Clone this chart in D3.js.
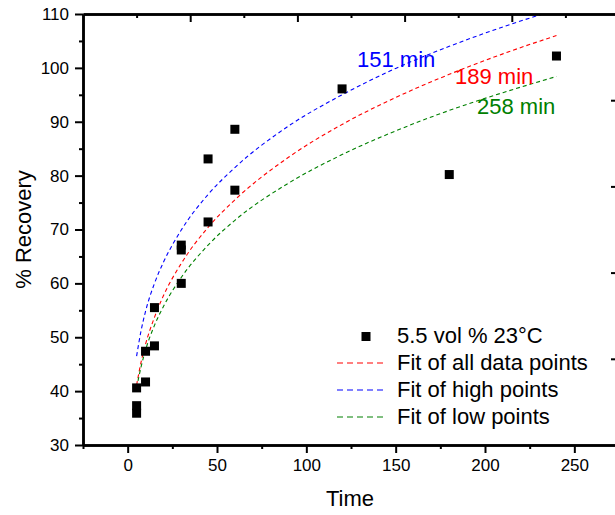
<!DOCTYPE html>
<html>
<head>
<meta charset="utf-8">
<script src="https://cdn.jsdelivr.net/npm/d3@7"></script>
<style>
  body { margin: 0; background: #fff; }
  text { font-family: Arial, "Liberation Sans", sans-serif; fill: #000; }
</style>
</head>
<body>
<div id="chart"></div>
<script>
// measured points
var timePts = [5, 5, 5, 10, 10, 15, 15, 30, 30, 30, 45, 45, 60, 60, 120, 180, 240];
var recPts = [40.6, 37.3, 35.9, 41.7, 47.4, 48.4, 55.5, 60.0, 66.2, 67.1, 71.4, 83.1, 77.3, 88.6, 96.1, 80.2, 102.2];

// fit curves
var fitTime = [5, 7.5, 10, 15, 20, 30, 45, 60, 90, 120, 150, 180, 210, 240];
var fitAll = [41.1, 45.4, 48.7, 53.7, 57.7, 63.7, 70.4, 75.5, 83.4, 89.5, 94.5, 98.8, 102.6, 106.0];
var fitHigh = [46.5, 51.2, 54.8, 60.0, 63.9, 69.9, 76.5, 81.5, 89.2, 95.0, 99.9, 104.0, 107.6, 110.8];
var fitLow = [40.6, 44.5, 47.6, 52.2, 55.7, 61.1, 67.1, 71.7, 78.6, 83.9, 88.3, 92.1, 95.4, 98.4];

var xTicks = [0, 50, 100, 150, 200, 250];
var yTicks = [30, 40, 50, 60, 70, 80, 90, 100, 110];

var seriesNames = ['5.5 vol % 23\u00B0C', 'Fit of all data points', 'Fit of high points', 'Fit of low points'];
var fitColors = ['#ff0000', '#0000ff', '#008000'];
var fitLabels = ['189 min', '151 min', '258 min'];

var W = 615, H = 515;
var margin = {top: 14, right: -4, bottom: 70, left: 83};
var width = W - margin.left - margin.right;
var height = H - margin.top - margin.bottom;

var svg = d3.select('#chart').append('svg')
	.attr('width', W)
	.attr('height', H)
	.append('g')
	.attr('transform', 'translate(' + margin.left + ',' + margin.top + ')');

var x = d3.scaleLinear().domain([-25, 275]).range([0, width]);
var y = d3.scaleLinear().domain([30, 110]).range([height, 0]);
// top / right frame axes carry their own spacing
var xTop = d3.scaleLinear().domain([0, 5]).range([0, width]);
var yRight = d3.scaleLinear().domain([0, 5]).range([height, 0]);

svg.append('clipPath').attr('id', 'clip')
	.append('rect').attr('width', width).attr('height', height);

// fit curves
var fits = [fitAll, fitHigh, fitLow];
var line = d3.line()
	.x(function(d) { return x(d[0]); })
	.y(function(d) { return y(d[1]); })
	.curve(d3.curveMonotoneX);

fits.forEach(function(f, k) {
	svg.append('path')
		.datum(fitTime.map(function(t, i) { return [t, f[i]]; }))
		.attr('clip-path', 'url(#clip)')
		.attr('fill', 'none')
		.attr('stroke', fitColors[k])
		.attr('stroke-width', 1.1)
		.attr('stroke-dasharray', '4,3')
		.attr('d', line);
});

// points
svg.selectAll('.pt')
	.data(timePts)
	.enter().append('rect')
	.attr('class', 'pt')
	.attr('x', function(d) { return x(d) - 4.5; })
	.attr('y', function(d, i) { return y(recPts[i]) - 4.5; })
	.attr('width', 9)
	.attr('height', 9)
	.attr('fill', '#000');

// axes
function styleAxis(g) {
	g.select('.domain').attr('stroke-width', 2.5).attr('stroke', '#000');
	g.selectAll('.tick line').attr('stroke-width', 2).attr('stroke', '#000');
	g.selectAll('.tick text').style('font-size', '17px').style('font-family', 'Arial, "Liberation Sans", sans-serif');
}

var minorX = d3.range(-25, 276, 25).filter(function(v) { return v % 50 !== 0; });
var minorY = d3.range(35, 110, 10);

svg.append('g')
	.attr('transform', 'translate(0,' + height + ')')
	.call(d3.axisBottom(x).tickValues(minorX).tickSize(4).tickFormat('').tickSizeOuter(0))
	.call(styleAxis);
svg.append('g')
	.attr('transform', 'translate(0,' + height + ')')
	.call(d3.axisBottom(x).tickValues(xTicks).tickSize(8).tickPadding(6).tickSizeOuter(0))
	.call(styleAxis);

svg.append('g')
	.call(d3.axisLeft(y).tickValues(minorY).tickSize(4).tickFormat('').tickSizeOuter(0))
	.call(styleAxis);
svg.append('g')
	.call(d3.axisLeft(y).tickValues(yTicks).tickSize(8).tickPadding(6).tickSizeOuter(0))
	.call(styleAxis);

svg.append('g')
	.call(d3.axisTop(xTop).tickValues([0.5, 1.5, 2.5, 3.5, 4.5]).tickSize(-4).tickFormat('').tickSizeOuter(0))
	.call(styleAxis);
svg.append('g')
	.call(d3.axisTop(xTop).tickValues([1, 2, 3, 4]).tickSize(-8).tickFormat('').tickSizeOuter(0))
	.call(styleAxis);

svg.append('g')
	.attr('transform', 'translate(' + width + ',0)')
	.call(d3.axisRight(yRight).tickValues([1, 2, 3, 4]).tickSize(-8).tickFormat('').tickSizeOuter(0))
	.call(styleAxis);

// axis titles
svg.append('text')
	.attr('x', width / 2 - 1)
	.attr('y', height + 61)
	.attr('text-anchor', 'middle')
	.style('font-size', '22px')
	.text('Time');

svg.append('text')
	.attr('transform', 'translate(' + (31 - margin.left) + ',' + (height / 2) + ') rotate(-90)')
	.attr('text-anchor', 'middle')
	.style('font-size', '22px')
	.text('% Recovery');

// curve labels
var labelPos = [[455, 84], [357, 67], [477, 114]];
fitLabels.forEach(function(t, k) {
	svg.append('text')
		.attr('x', labelPos[k][0] - margin.left)
		.attr('y', labelPos[k][1] - margin.top)
		.style('font-size', '22px')
		.style('fill', fitColors[k])
		.text(t);
});

// legend
var legend = svg.append('g').attr('transform', 'translate(' + (337 - margin.left) + ',' + (343 - margin.top) + ')');
var rowH = 27;
legend.append('rect')
	.attr('x', 24.5).attr('y', -11).attr('width', 9).attr('height', 9)
	.attr('fill', '#000');
fitColors.forEach(function(c, k) {
	legend.append('line')
		.attr('x1', 0).attr('x2', 50)
		.attr('y1', (k + 1) * rowH - 7).attr('y2', (k + 1) * rowH - 7)
		.attr('stroke', c)
		.attr('stroke-width', 1.1)
		.attr('stroke-dasharray', '6,4');
});
seriesNames.forEach(function(s, k) {
	legend.append('text')
		.attr('x', 60)
		.attr('y', k * rowH)
		.style('font-size', '22px')
		.text(s);
});
</script>
</body>
</html>
